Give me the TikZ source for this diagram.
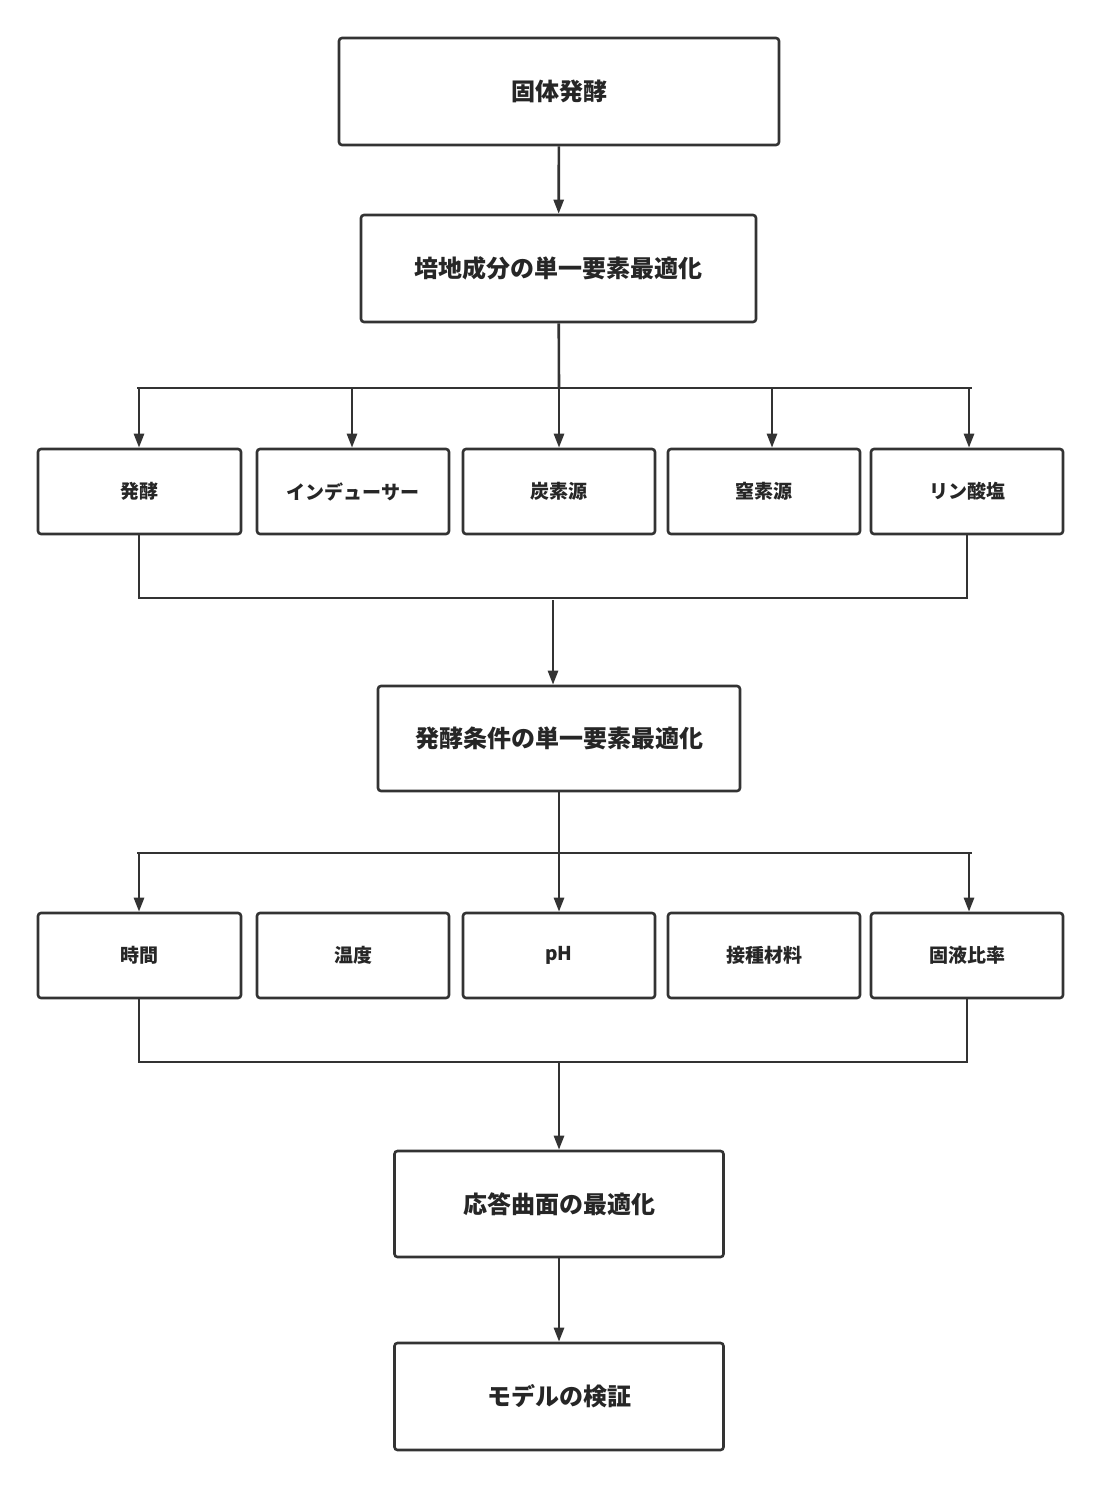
\documentclass[tikz,border=0pt]{standalone}
\usepackage{fontspec}
\newfontfamily\cjk{Noto Sans CJK JP}
\usetikzlibrary{arrows.meta}
\tikzset{box/.style={draw=black!80,line width=2.6pt,rounded corners=3pt,font=\cjk\bfseries\fontsize{24}{28}\selectfont,text=black!85,inner sep=0pt},
  small/.style={box,font=\cjk\bfseries\fontsize{19}{22}\selectfont,minimum width=192pt,minimum height=85pt},
  line/.style={draw=black!80,line width=2.6pt},
  arr/.style={line,-{Triangle[length=14pt,width=10pt]}}}
\begin{document}
\begin{tikzpicture}[x=1pt,y=-1pt]
    \useasboundingbox (0,0) rectangle (1101,1488);
    \node[box,minimum width=440pt,minimum height=107pt] (A) at (559,91.5) {固体発酵};
    \node[box,minimum width=395pt,minimum height=107pt] (B) at (558.5,268.5) {培地成分の単一要素最適化};
    \node[small,minimum width=203pt] (C1) at (139.5,491.5) {発酵};
    \node[small] (C2) at (353,491.5) {インデューサー};
    \node[small] (C3) at (559,491.5) {炭素源};
    \node[small] (C4) at (764,491.5) {窒素源};
    \node[small] (C5) at (967,491.5) {リン酸塩};
    \node[box,minimum width=362pt,minimum height=105pt] (D) at (559,738.5) {発酵条件の単一要素最適化};
    \node[small,minimum width=203pt] (E1) at (139.5,955.5) {時間};
    \node[small] (E2) at (353,955.5) {温度};
    \node[small] (E3) at (559,955.5) {pH};
    \node[small] (E4) at (764,955.5) {接種材料};
    \node[small] (E5) at (967,955.5) {固液比率};
    \node[box,minimum width=329pt,minimum height=106pt] (F) at (559,1204) {応答曲面の最適化};
    \node[box,minimum width=329pt,minimum height=107pt] (G) at (559,1396.5) {モデルの検証};

    \coordinate (b1L) at (137,388);
    \coordinate (b1R) at (972,388);
    \coordinate (m1L) at (139,598);
    \coordinate (m1R) at (967,598);
    \coordinate (m1) at (553,600);
    \coordinate (b2L) at (137,853);
    \coordinate (b2R) at (972,853);
    \coordinate (m2L) at (139,1062);
    \coordinate (m2R) at (967,1062);
    \coordinate (m2) at (559,1062);

    \draw[arr] (A) -- (B);
    \draw[line] (B) -- (559,388);
    \draw[line] (b1L) -- (b1R);
    \draw[arr] (139,388) -- (C1.north -| 139,0);
    \draw[arr] (352,388) -- (C2.north -| 352,0);
    \draw[arr] (559,388) -- (C3);
    \draw[arr] (772,388) -- (C4.north -| 772,0);
    \draw[arr] (969,388) -- (C5.north -| 969,0);
    \draw[line] (C1.south -| m1L) -- (m1L) -- (m1R) -- (C5.south -| m1R);
    \draw[arr] (m1) -- (m1 |- D.north);
    \draw[line] (D) -- (559,853);
    \draw[line] (b2L) -- (b2R);
    \draw[arr] (139,853) -- (E1.north -| 139,0);
    \draw[arr] (559,853) -- (E3);
    \draw[arr] (969,853) -- (E5.north -| 969,0);
    \draw[line] (E1.south -| m2L) -- (m2L) -- (m2R) -- (E5.south -| m2R);
    \draw[arr] (m2) -- (F);
    \draw[arr] (F) -- (G);
\end{tikzpicture}
\end{document}
